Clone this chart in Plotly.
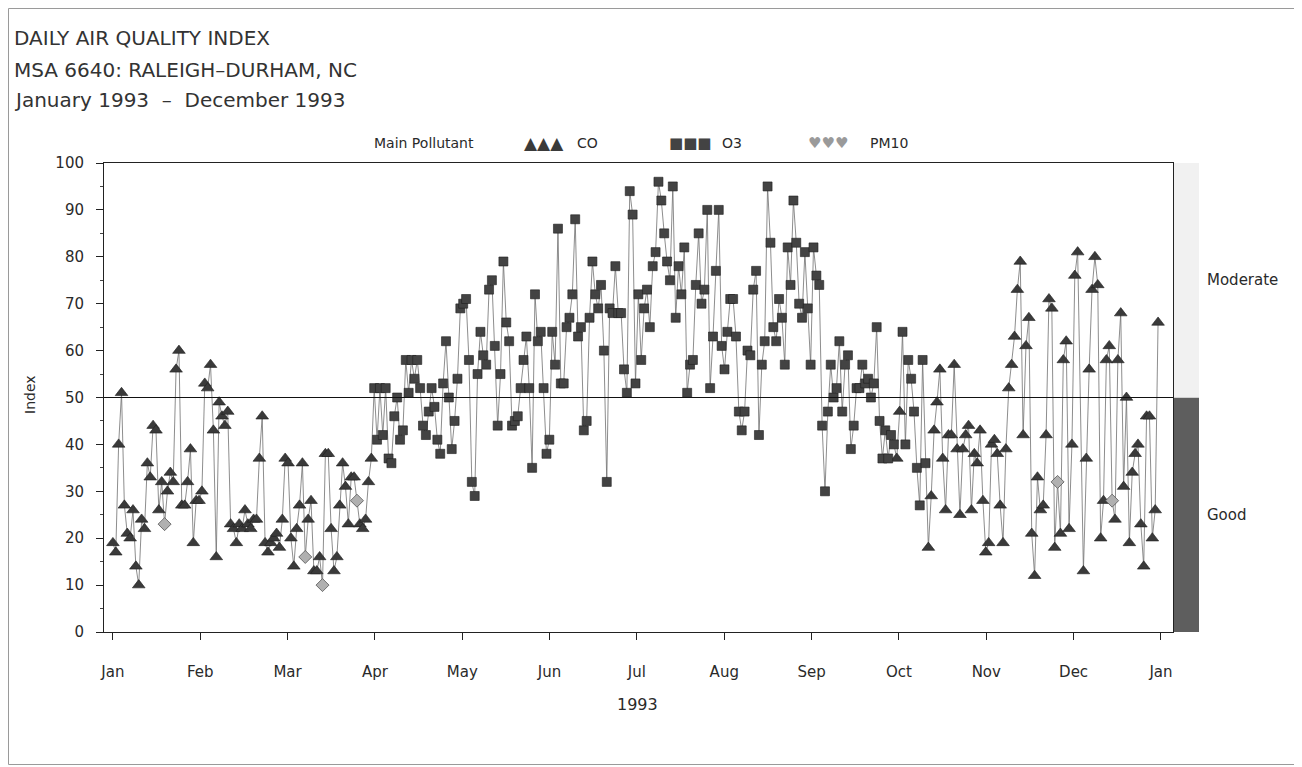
import plotly.graph_objects as go

# ---------------- data ----------------
# daily AQI values, in date order, split into segments
aqi_jan_mar = [19, 17, 40, 51, 27, 21, 20, 26, 14, 10,
               24, 22, 36, 33, 44, 43, 26, 32, 23, 30,
               34, 32, 56, 60, 27, 27, 32, 39, 19, 28,
               28, 30, 53, 52, 57, 43, 16, 49, 46, 44,
               47, 23, 22, 19, 23, 22, 26, 23, 22, 24,
               24, 37, 46, 19, 17, 19, 20, 21, 18, 24,
               37, 36, 20, 14, 22, 27, 36, 16, 24, 28,
               13, 13, 16, 10, 38, 38, 22, 13, 16, 27,
               36, 31, 23, 33, 33, 28, 23, 22, 24, 32, 37]
aqi_apr_may = [52, 41, 52, 42, 52, 37, 36, 46, 50, 41,
               43, 58, 51, 58, 54, 58, 52, 44, 42, 47,
               52, 48, 41, 38, 53, 62, 50, 39, 45, 54,
               69, 70, 71, 58, 32, 29, 55, 64, 59, 57,
               73, 75, 61, 44, 55, 79, 66, 62, 44]
aqi_may_jul = [45, 46, 52, 58, 63, 52, 35, 72, 62, 64,
               52, 38, 41, 64, 57, 86, 53, 53, 65, 67,
               72, 88, 63, 65, 43, 45, 67, 79, 72, 69,
               74, 60, 32, 69, 68, 78, 68, 68, 56, 51,
               94, 89, 53, 72, 58, 69, 73, 65, 78, 81,
               96, 92, 85]
aqi_jul_aug = [79, 75, 95, 67, 78, 72, 82, 51, 57, 58,
               74, 85, 70, 73, 90, 52, 63, 77, 90, 61,
               56, 64, 71, 71, 63, 47, 43, 47, 60, 59,
               73, 77, 42, 57, 62, 95, 83, 65, 62, 71,
               67, 57, 82, 74, 92, 83, 70, 67]
aqi_sep_oct = [81, 69, 57, 82, 76, 74, 44, 30, 47, 57,
               50, 52, 62, 47, 57, 59, 39, 44, 52, 52,
               57, 53, 54, 50, 53, 65, 45, 37, 43, 37,
               42, 40, 37, 47, 64, 40, 58, 54, 47, 35,
               27, 58, 36]
aqi_oct_nov = [18, 29, 43, 49, 56, 37, 26, 42, 42, 57,
               39, 25, 39, 42, 44, 26, 38, 36, 43, 28,
               17, 19, 40, 41, 38, 27, 19, 39, 52, 57,
               63, 73, 79, 42, 61, 67, 21, 12, 33, 26,
               27, 42, 71, 69, 18, 32, 21, 58, 62, 22,
               40, 76, 81]
aqi_dec = [13, 37, 56, 73, 80, 74, 20, 28, 58, 61,
           28, 24, 58, 68, 31, 50, 19, 34, 38, 40,
           23, 14, 46, 46, 20, 26, 66]

# main pollutant for each day, as runs (pollutant, number of days)
pollutant_runs = [("CO", 18), ("PM10", 1), ("CO", 48), ("PM10", 1), ("CO", 5),
                  ("PM10", 1), ("CO", 11), ("PM10", 1), ("CO", 5),
                  ("O3", 182), ("CO", 2), ("O3", 9), ("CO", 45), ("PM10", 1),
                  ("CO", 17), ("PM10", 1), ("CO", 16)]

missing_days = [337]          # day of year without a value
month_labels = ["Jan", "Feb", "Mar", "Apr", "May", "Jun", "Jul",
                "Aug", "Sep", "Oct", "Nov", "Dec", "Jan"]
y_ticks = [0, 10, 20, 30, 40, 50, 60, 70, 80, 90, 100]
category_bands = [("Good", 0, 50), ("Moderate", 50, 100)]

# ---------------- build ----------------
aqi = (aqi_jan_mar + aqi_apr_may + aqi_may_jul + aqi_jul_aug +
       aqi_sep_oct + aqi_oct_nov + aqi_dec)
pollutant = []
for name, n in pollutant_runs:
    pollutant += [name] * n
days = [d for d in range(365) if d not in missing_days]
n = min(len(aqi), len(pollutant), len(days))
aqi, pollutant, days = aqi[:n], pollutant[:n], days[:n]

month_ticks = [k * 365 / 12 for k in range(13)]

FONT = "DejaVu Sans"
INK = "#2a2a2a"

# plot area on screen: x 104..1173, y 163..632 (page has an 8px body margin)
PL, PW, PB, PH = 104, 1069, 632, 469


def px(x):
    return (x - PL) / PW


def py(y):
    return (PB - y) / PH


fig = go.Figure()
fig.add_trace(go.Scatter(x=days, y=aqi, mode="lines",
                         line=dict(color="#707070", width=0.8),
                         hoverinfo="skip", showlegend=False))

styles = {
    "CO": dict(symbol="triangle-up", size=11, color="#3a3a3a",
               line=dict(color="#1e1e1e", width=0.6)),
    "O3": dict(symbol="square", size=9, color="#434343",
               line=dict(color="#1e1e1e", width=0.6)),
    "PM10": dict(symbol="diamond", size=10, color="#b0b0b0",
                 line=dict(color="#555555", width=0.8)),
}
for p in ["CO", "O3", "PM10"]:
    xs = [d for d, q in zip(days, pollutant) if q == p]
    ys = [v for v, q in zip(aqi, pollutant) if q == p]
    fig.add_trace(go.Scatter(x=xs, y=ys, mode="markers", name=p,
                             marker=styles[p], showlegend=False))

shapes = []
# reference line at 50
shapes.append(dict(type="line", xref="paper", yref="y", x0=0, x1=1, y0=50, y1=50,
                   line=dict(color="#111", width=1)))
# category bar on the right
band_fill = {"Good": "#5e5e5e", "Moderate": "#f1f1f1"}
for name, lo, hi in category_bands:
    shapes.append(dict(type="rect", xref="paper", yref="y", x0=1.0, x1=px(1199),
                       y0=lo, y1=hi, fillcolor=band_fill[name],
                       line=dict(width=0), layer="below"))
# outer frame
shapes.append(dict(type="rect", xref="paper", yref="paper",
                   x0=px(8.5), x1=px(1299.5), y0=py(764.5), y1=py(8.5),
                   line=dict(color="#9a9a9a", width=1)))

annotations = []
titles = [("DAILY AIR QUALITY INDEX", 38),
          ("MSA 6640: RALEIGH\u2013DURHAM, NC", 70),
          ("January 1993  \u2013  December 1993", 100)]
for txt, yy in titles:
    annotations.append(dict(text=txt, xref="paper", yref="paper", x=px(12), y=py(yy),
                            xanchor="left", yanchor="middle", showarrow=False,
                            font=dict(family=FONT, size=20, color="#333")))

leg_y = py(143)
legend_items = [("Main Pollutant", 372, 14, INK),
                ("\u25b2\u25b2\u25b2", 522, 17, "#3a3a3a"),
                ("CO", 575, 14, INK),
                ("\u25a0\u25a0\u25a0", 667, 15, "#434343"),
                ("O3", 720, 14, INK),
                ("\u2665\u2665\u2665", 806, 15, "#9a9a9a"),
                ("PM10", 868, 14, INK)]
for txt, lx, fs, col in legend_items:
    annotations.append(dict(text=txt, xref="paper", yref="paper",
                            x=px(lx), y=leg_y, xanchor="left",
                            yanchor="middle", showarrow=False,
                            font=dict(family=FONT, size=fs, color=col)))

for name, lo, hi in category_bands:
    annotations.append(dict(text=name, xref="paper", yref="y", x=px(1205),
                            y=(lo + hi) / 2, xanchor="left", yanchor="middle",
                            showarrow=False,
                            font=dict(family=FONT, size=15, color=INK)))

annotations.append(dict(text="1993", xref="paper", yref="paper", x=px(637), y=py(704),
                        xanchor="center", yanchor="middle", showarrow=False,
                        font=dict(family=FONT, size=16, color=INK)))
annotations.append(dict(text="Index", xref="paper", yref="paper", x=px(30), y=py(395),
                        xanchor="center", yanchor="middle", showarrow=False,
                        textangle=-90,
                        font=dict(family=FONT, size=14, color=INK)))

fig.update_layout(
    width=1302, height=767,
    margin=dict(l=PL - 8, r=1302 - (PL + PW - 8), t=PB - PH - 8,
                b=767 - (PB - 8)),
    paper_bgcolor="white", plot_bgcolor="white",
    font=dict(family=FONT, color=INK, size=14),
    shapes=shapes, annotations=annotations,
    xaxis=dict(range=[-3.1, 369.2], tickvals=month_ticks, ticktext=month_labels,
               ticks="outside", ticklen=7, tickcolor="#222", showgrid=False,
               zeroline=False, showline=True, linecolor="#222", linewidth=1,
               mirror=True, tickfont=dict(family=FONT, size=15, color=INK),
               ticklabelstandoff=19),
    yaxis=dict(range=[0, 100], tickvals=y_ticks, ticks="outside", ticklen=7,
               tickcolor="#222", showgrid=False, zeroline=False, showline=True,
               linecolor="#222", linewidth=1, mirror=True,
               tickfont=dict(family=FONT, size=15, color=INK),
               ticklabelstandoff=9,
               minor=dict(dtick=5, ticks="outside", ticklen=3, tickcolor="#444")),
)

fig.write_html("out.html")
